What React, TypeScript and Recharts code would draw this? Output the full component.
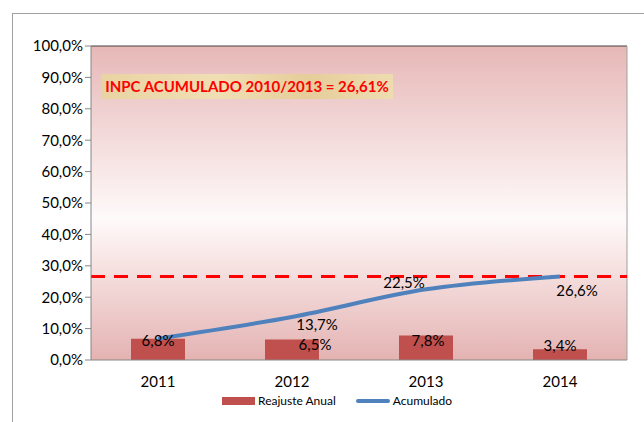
import React from "react";
import {
  Bar,
  ComposedChart,
  Line,
  LabelList,
  ReferenceLine,
  XAxis,
  YAxis,
  CartesianGrid,
} from "recharts";

const years = ["2011", "2012", "2013", "2014"];
const reajusteAnual = [6.8, 6.5, 7.8, 3.4];
const acumulado = [6.8, 13.7, 22.5, 26.6];
const inpcAcumulado = 26.61;
const yTicks = [0, 10, 20, 30, 40, 50, 60, 70, 80, 90, 100];

// hand-placed label nudges, like the original sheet
const barLabelNudge = [
  [0, 1],
  [23, 4],
  [2, 4],
  [0, -4],
];
const lineLabelNudge = [
  [0, 0],
  [25, 7],
  [-22, -7],
  [17, 14],
];

const font = "Lato, 'Open Sans', sans-serif";
const pct = (v: number) => `${v.toFixed(1).replace(".", ",")}%`;

const data = years.map((year, i) => ({
  year,
  idx: i,
  reajuste: reajusteAnual[i],
  acumulado: acumulado[i],
}));

function BarTag(props: any) {
  const { x, y, width, value, index } = props;
  const [dx, dy] = barLabelNudge[index] ?? [0, 0];
  return (
    <text
      x={x + width / 2 + dx}
      y={y + dy}
      textAnchor="middle"
      dominantBaseline="central"
      fontSize={15}
      fontFamily={font}
      fill="#000"
    >
      {pct(value)}
    </text>
  );
}

function LineTag(props: any) {
  const { x, y, value, index } = props;
  if (index === 0) return null; // same text as the bar label underneath
  const [dx, dy] = lineLabelNudge[index] ?? [0, 0];
  return (
    <text
      x={x + dx}
      y={y + dy}
      textAnchor="middle"
      dominantBaseline="central"
      fontSize={15}
      fontFamily={font}
      fill="#000"
    >
      {pct(value)}
    </text>
  );
}

export default function App() {
  return (
    <div style={{ position: "absolute", left: 0, top: 0, width: 644, height: 422, background: "#fff" }}>
      <div style={{ position: "absolute", left: 12, top: 13, width: 1, height: 409, background: "#a0a0a0" }} />
      <div style={{ position: "absolute", left: 12, top: 13, width: 632, height: 1, background: "#a0a0a0" }} />
      <ComposedChart
        width={644}
        height={422}
        data={data}
        margin={{ top: 46, right: 17, left: 11, bottom: 32 }}
        barCategoryGap={0}
      >
        <defs>
          <linearGradient id="plotBg" x1="0" y1="0" x2="0" y2="1">
            <stop offset="0%" stopColor="#e6b8b7" />
            <stop offset="55%" stopColor="#fffafa" />
            <stop offset="100%" stopColor="#e4b3b2" />
          </linearGradient>
        </defs>
        <CartesianGrid horizontal={false} vertical={false} fill="url(#plotBg)" fillOpacity={1} />
        <XAxis
          xAxisId="ticks"
          dataKey="idx"
          type="number"
          domain={[-0.5, 3.5]}
          ticks={[-0.5, 0.5, 1.5, 2.5, 3.5]}
          height={0}
          axisLine={false}
          tickLine={{ stroke: "#868686" }}
          tickSize={6}
          tickFormatter={() => ""}
        />
        <XAxis
          dataKey="year"
          height={30}
          axisLine={{ stroke: "#868686" }}
          tickLine={false}
          tick={{ fontSize: 15, fontFamily: font, fill: "#000" }}
          dy={8}
        />
        <YAxis
          domain={[0, 100]}
          ticks={yTicks}
          width={80}
          interval={0}
          axisLine={{ stroke: "#868686" }}
          tickLine={{ stroke: "#868686" }}
          tickSize={6}
          tickFormatter={pct}
          tick={{ fontSize: 15, fontFamily: font, fill: "#000" }}
        />
        <ReferenceLine y={100} stroke="#404040" />
        <ReferenceLine xAxisId="ticks" x={3.5} stroke="#a0a0a0" />
        <Bar dataKey="reajuste" fill="#c0504d" barSize={54} isAnimationActive={false}>
          <LabelList dataKey="reajuste" content={BarTag} />
        </Bar>
        <ReferenceLine y={inpcAcumulado} stroke="#ff0000" strokeWidth={3} strokeDasharray="14 9" />
        <Line
          dataKey="acumulado"
          type="monotone"
          stroke="#4f81bd"
          strokeWidth={4}
          dot={false}
          isAnimationActive={false}
        >
          <LabelList dataKey="acumulado" content={LineTag} />
        </Line>
      </ComposedChart>
      <div
        style={{
          position: "absolute",
          left: 101,
          top: 74,
          width: 292,
          height: 25,
          background: "linear-gradient(90deg, #e9d3a2, #f0dfb4 40%, #e6cd9a 70%, #eedcb0)",
          color: "#ff0000",
          fontFamily: font,
          fontWeight: 700,
          fontSize: 15,
          lineHeight: "25px",
          textAlign: "center",
        }}
      >
        INPC ACUMULADO 2010/2013 = 26,61%
      </div>
      <div
        style={{
          position: "absolute",
          left: 222,
          top: 393,
          display: "flex",
          alignItems: "center",
          fontFamily: font,
          fontSize: 12,
          color: "#000",
          whiteSpace: "nowrap",
        }}
      >
        <span style={{ display: "inline-block", width: 33, height: 8, background: "#c0504d", marginRight: 3 }} />
        <span style={{ marginRight: 20 }}>Reajuste Anual</span>
        <span style={{ display: "inline-block", width: 34, height: 4, borderRadius: 2, background: "#4f81bd", marginRight: 3 }} />
        <span>Acumulado</span>
      </div>
    </div>
  );
}
